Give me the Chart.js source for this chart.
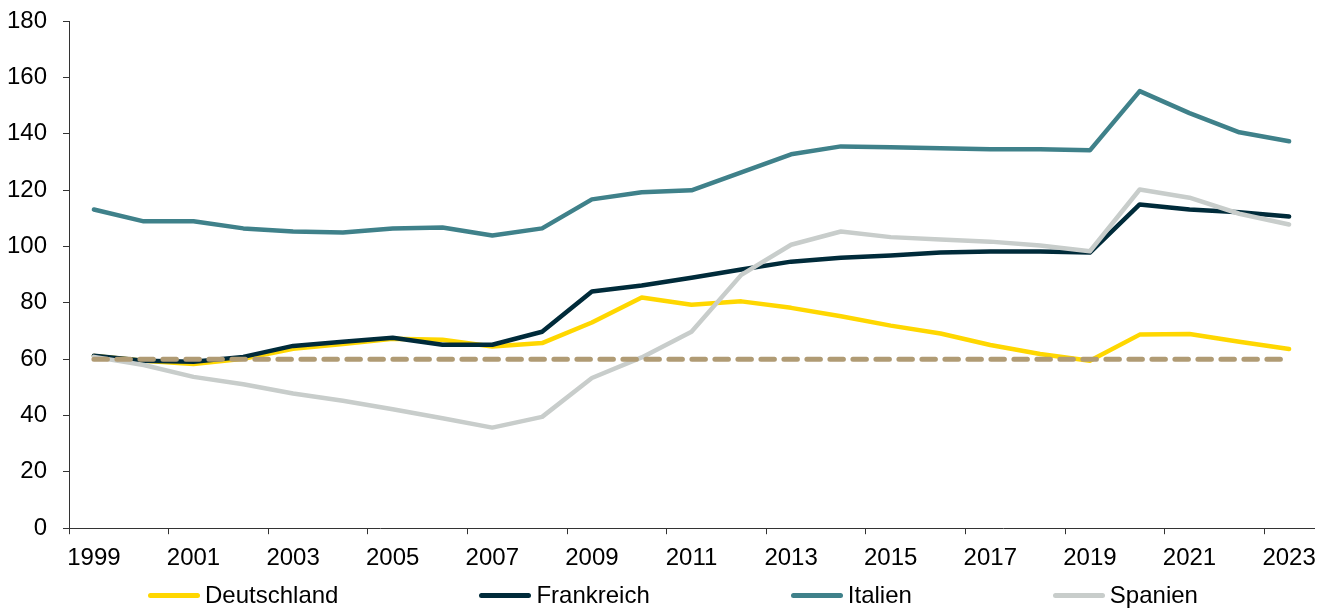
<!DOCTYPE html>
<html>
<head>
<meta charset="utf-8">
<script src="https://cdn.jsdelivr.net/npm/chart.js@4/dist/chart.umd.min.js"></script>
<style>
  body { margin: 0; background: #fff; }
  #wrap { position: relative; width: 1329px; height: 610px; }
  #legend {
    position: absolute; top: 581px; left: 148px;
    display: flex; align-items: center; gap: 141px;
    font: 24px "Liberation Sans", Arial, sans-serif; line-height: 28px; color: #000;
  }
  .item { display: flex; align-items: center; }
  .swatch { display: inline-block; width: 52px; height: 5px; border-radius: 3px; margin-right: 5px; }
</style>
</head>
<body>
<div id="wrap">
  <canvas id="debtChart" width="1329" height="610"></canvas>
  <div id="legend"></div>
</div>
<script>
const years = ["1999", "2000", "2001", "2002", "2003", "2004", "2005", "2006", "2007", "2008", "2009", "2010",
    "2011", "2012", "2013", "2014", "2015", "2016", "2017", "2018", "2019", "2020", "2021", "2022", "2023"];

const deutschland = [61.1, 59.4, 58.3, 60.1, 63.7, 65.4, 67.2, 66.9, 64.5, 65.7, 73.0, 81.9,
    79.3, 80.5, 78.2, 75.2, 71.9, 69.1, 65.0, 61.8, 59.4, 68.7, 68.9, 66.2, 63.6];
const frankreich = [61.2, 59.4, 59.1, 60.8, 64.7, 66.2, 67.6, 65.1, 65.1, 69.7, 84.0, 86.1,
    88.9, 91.8, 94.6, 96.0, 96.8, 97.8, 98.2, 98.2, 97.8, 114.9, 113.1, 112.1, 110.6];
const italien = [113.1, 108.9, 108.9, 106.4, 105.3, 104.9, 106.4, 106.7, 103.9, 106.4, 116.7, 119.2,
    119.9, 126.3, 132.7, 135.5, 135.2, 134.8, 134.5, 134.5, 134.1, 155.1, 147.3, 140.5, 137.3];
const spanien = [60.8, 57.9, 53.7, 51.1, 47.8, 45.2, 42.2, 39.0, 35.7, 39.5, 53.3, 60.6,
    69.7, 89.9, 100.6, 105.3, 103.3, 102.5, 101.7, 100.3, 98.3, 120.2, 117.3, 111.6, 107.8];
// Maastricht-Grenze
const grenze = [60, 60, 60, 60, 60, 60, 60, 60, 60, 60, 60, 60,
    60, 60, 60, 60, 60, 60, 60, 60, 60, 60, 60, 60, 60];

const yTicks = [0, 20, 40, 60, 80, 100, 120, 140, 160, 180];

const FONT = { family: "'Liberation Sans', Arial, sans-serif", size: 24 };
const AXIS = "#333333";

function series(label, data, color, order) {
    return {
        label: label,
        data: data,
        borderColor: color,
        backgroundColor: color,
        borderWidth: 4.5,
        borderCapStyle: "round",
        borderJoinStyle: "round",
        pointRadius: 0,
        tension: 0,
        order: order
    };
}

const datasets = [
    series("Deutschland", deutschland, "#FFD700", 4),
    series("Frankreich", frankreich, "#002B3A", 3),
    series("Italien", italien, "#3F818A", 2),
    series("Spanien", spanien, "#C8CDCB", 1),
    Object.assign(series("60%", grenze, "#B09B74", 0), {
        borderWidth: 5, borderDash: [13.5, 9.5], inLegend: false
    })
];

new Chart(document.getElementById("debtChart").getContext("2d"), {
    type: "line",
    data: { labels: years, datasets: datasets },
    options: {
        responsive: false,
        animation: false,
        devicePixelRatio: 1,
        layout: { padding: { left: 0, right: 15, top: 21, bottom: 27 } },
        plugins: { legend: { display: false }, tooltip: { enabled: false } },
        scales: {
            x: {
                type: "category",
                offset: true,
                grid: {
                    offset: true,
                    drawOnChartArea: false,
                    tickLength: 6,
                    tickColor: ctx => ctx.index % 2 === 0 ? AXIS : "rgba(0,0,0,0)"
                },
                border: { color: AXIS, width: 1 },
                ticks: {
                    autoSkip: false,
                    maxRotation: 0,
                    padding: 10,
                    color: "#000",
                    font: FONT,
                    callback: (v, i) => i % 2 === 0 ? years[i] : ""
                }
            },
            y: {
                min: 0,
                max: 180,
                afterFit: scale => {
                    scale.width = 69;
                    scale.paddingTop = 0;
                    scale.paddingBottom = 0;
                },
                afterBuildTicks: scale => { scale.ticks = yTicks.map(v => ({ value: v })); },
                grid: { drawOnChartArea: false, tickLength: 6, tickColor: AXIS },
                border: { color: AXIS, width: 1 },
                ticks: { padding: 16, color: "#000", font: FONT }
            }
        }
    }
});

// legend as html, Excel-like spacing
const legend = document.getElementById("legend");
datasets.filter(d => d.inLegend !== false).forEach(d => {
    const item = document.createElement("div");
    item.className = "item";
    item.innerHTML = `<span class="swatch" style="background:${d.borderColor}"></span><span>${d.label}</span>`;
    legend.appendChild(item);
});
</script>
</body>
</html>
